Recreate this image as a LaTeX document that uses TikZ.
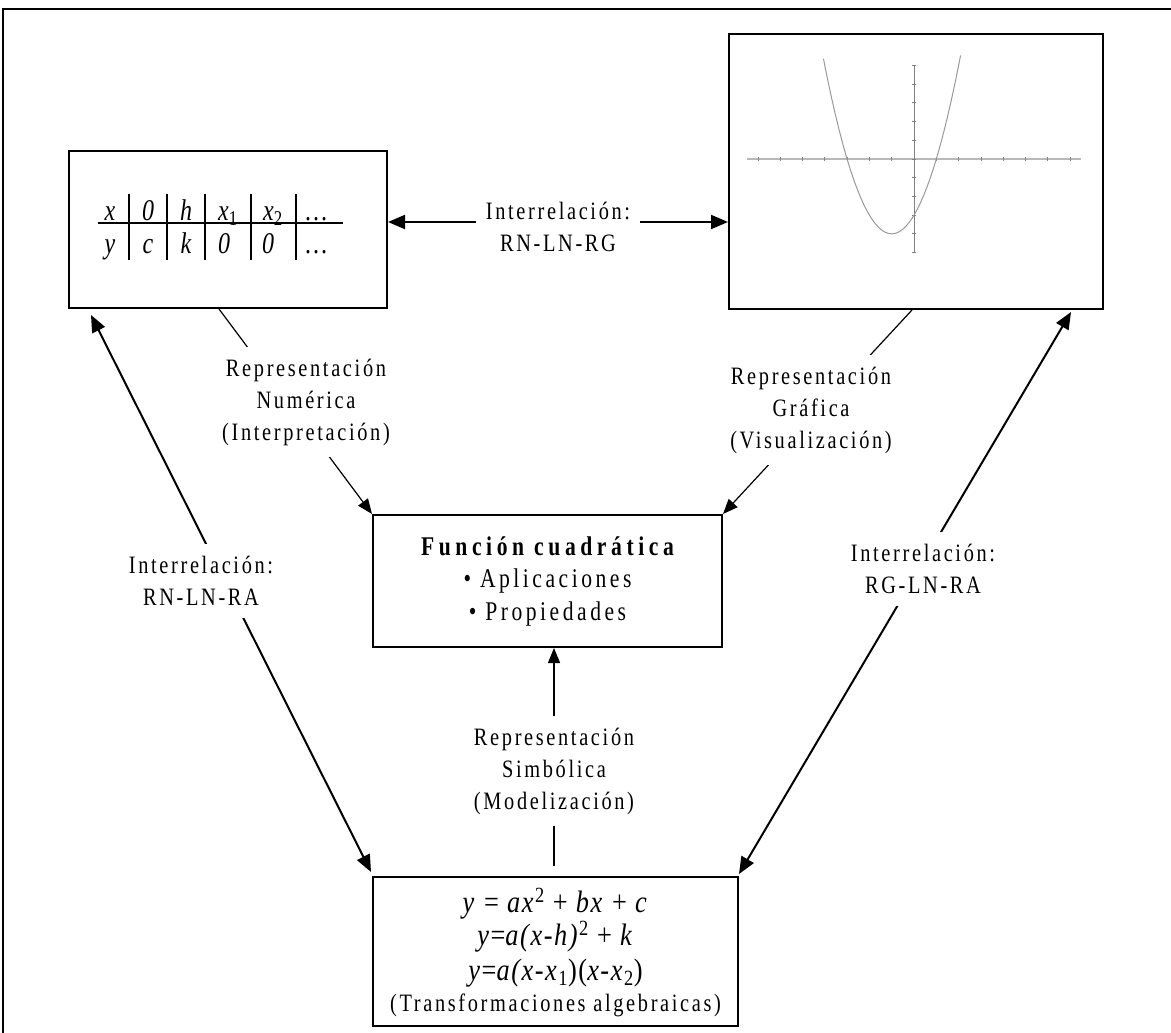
\documentclass[tikz,border=0pt]{standalone}
\usepackage{fontspec}
\setmainfont{Liberation Serif}
\newfontfamily\lbl[FakeStretch=0.815,LetterSpace=10.6]{Liberation Serif}
\newfontfamily\boxf[FakeStretch=0.8,LetterSpace=13]{Liberation Serif}
\newfontfamily\titf[FakeStretch=0.8,LetterSpace=17]{Liberation Serif}
\newfontfamily\eqf[FakeStretch=0.85,LetterSpace=5]{Liberation Serif}
\newfontfamily\tbl[FakeStretch=0.8]{Liberation Serif}
\usetikzlibrary{arrows.meta}
\definecolor{axc}{gray}{0.5}
\definecolor{axh}{gray}{0.72}
\definecolor{cvc}{gray}{0.6}
\begin{document}
\begin{tikzpicture}[x=1pt,y=-1pt,
  box/.style={draw, line width=2pt, inner sep=0pt},
  lab/.style={font=\lbl\fontsize{25}{32}\selectfont, align=center, fill=white, inner xsep=10pt, inner ysep=12pt},
  tb/.style={font=\tbl\itshape\fontsize{30}{30}\selectfont, anchor=base, inner sep=0pt},
  eqs/.style={font=\eqf\fontsize{31}{31}\selectfont, anchor=base, inner sep=0pt},
  dbl/.style={line width=2pt, {Triangle[length=17pt,width=14pt]}-{Triangle[length=17pt,width=14pt]}},
  tharr/.style={line width=1.2pt, -{Triangle[length=15pt,width=12pt]}},
  tline/.style={line width=1.3pt}
]
\useasboundingbox (0,0) rectangle (1171,1033);
% outer frame
\draw[line width=1.5pt] (3,1033) -- (3,9) -- (1171,9);

% boxes
\node[box, minimum width=318pt, minimum height=157pt] (tab) at (228,229.5) {};
\node[box, minimum width=374pt, minimum height=275pt] (gra) at (916,171.5) {};
\node[box, minimum width=349pt, minimum height=132pt, align=center,
      font=\boxf\fontsize{27}{32.5}\selectfont] (fc) at (547.5,581)
  {{\titf\bfseries Función cuadrática}\\ • Aplicaciones\\ • Propiedades};
\node[box, minimum width=365pt, minimum height=149pt] (eq) at (555.5,951.5) {};
\node[eqs] (e1) at (555.5,912) {\textit{y} = \textit{ax}\textsuperscript{2} + \textit{bx} + \textit{c}};
\node[eqs] (e2) at (555.5,945) {\textit{y}=\textit{a(x-h)}\textsuperscript{2} + \textit{k}};
\node[eqs] (e3) at (555.5,980) {\textit{y}=\textit{a(x-x}\textsubscript{1})(\textit{x-x}\textsubscript{2})};
\node[anchor=base, inner sep=0pt, font=\lbl\fontsize{25}{32}\selectfont] (e4) at (555.5,1011) {(Transformaciones algebraicas)};

% table
\draw[tline] (98,223) -- (343,223);
\foreach \xx in {129,167,205,251,296} \draw[tline] (\xx,194) -- (\xx,260);
\node[tb] (c11) at (110,220) {x};
\node[tb] (c12) at (148,220) {0};
\node[tb] (c13) at (186,220) {h};
\node[tb] (c14) at (228,220) {x\textsubscript{\upshape 1}};
\node[tb] (c15) at (273,220) {x\textsubscript{\upshape 2}};
\node[tb] (c16) at (316,220) {\upshape\dots};
\node[tb] (c21) at (110,253) {y};
\node[tb] (c22) at (148,253) {c};
\node[tb] (c23) at (186,253) {k};
\node[tb] (c24) at (224,253) {0};
\node[tb] (c25) at (268,253) {0};
\node[tb] (c26) at (316,253) {\upshape\dots};

% graph
\begin{scope}[shift={(914,159)}, x=22.3pt, y=18.7pt]
  \draw[axh, line width=1.8pt] (-7.5,0) -- (7.5,0);
  \foreach \i in {-7,...,7} \draw[axc, line width=0.8pt] (\i,-0.12) -- (\i,0.12);
  \draw[axc, line width=1pt] (0,-5) -- (0,5);
  \foreach \j in {-5,...,5} \draw[axc, line width=0.8pt] (-0.1,\j) -- (0.1,\j);
  \draw[cvc, line width=1pt, domain=-4.06:2.09, samples=80, smooth] plot (\x,{\x*\x+2*\x-3});
\end{scope}

% connectors
\coordinate (ly) at (558,222);
\draw[dbl] (ly -| tab.east) -- (ly -| gra.west);
\draw[dbl] ([xshift=23pt,yshift=-6pt]tab.south west) -- ([xshift=-1pt,yshift=4pt]eq.north west);
\draw[dbl] ([xshift=-33pt,yshift=-2pt]gra.south east) -- ([yshift=2pt]eq.north east);
\draw[tharr] ([xshift=-9pt]tab.south) -- (fc.north west);
\draw[tharr] ([xshift=-4pt]gra.south) -- (fc.north east);
\draw[tharr] ([xshift=-1.5pt,yshift=10pt]eq.north) -- ([xshift=-1.5pt]eq.north |- fc.south);

% labels
\node[lab] (ltop) at (558,227) {Interrelación:\\RN-LN-RG};
\node[lab] (lnum) at (306,402) {Representación\\Numérica\\(Interpretación)};
\node[lab] (lgra) at (811,410) {Representación\\Gráfica\\(Visualización)};
\node[lab] (lleft) at (201,581) {Interrelación:\\RN-LN-RA};
\node[lab] (lright) at (923,569) {Interrelación:\\RG-LN-RA};
\node[lab] (lsym) at (554,771) {Representación\\Simbólica\\(Modelización)};
\end{tikzpicture}
\end{document}
